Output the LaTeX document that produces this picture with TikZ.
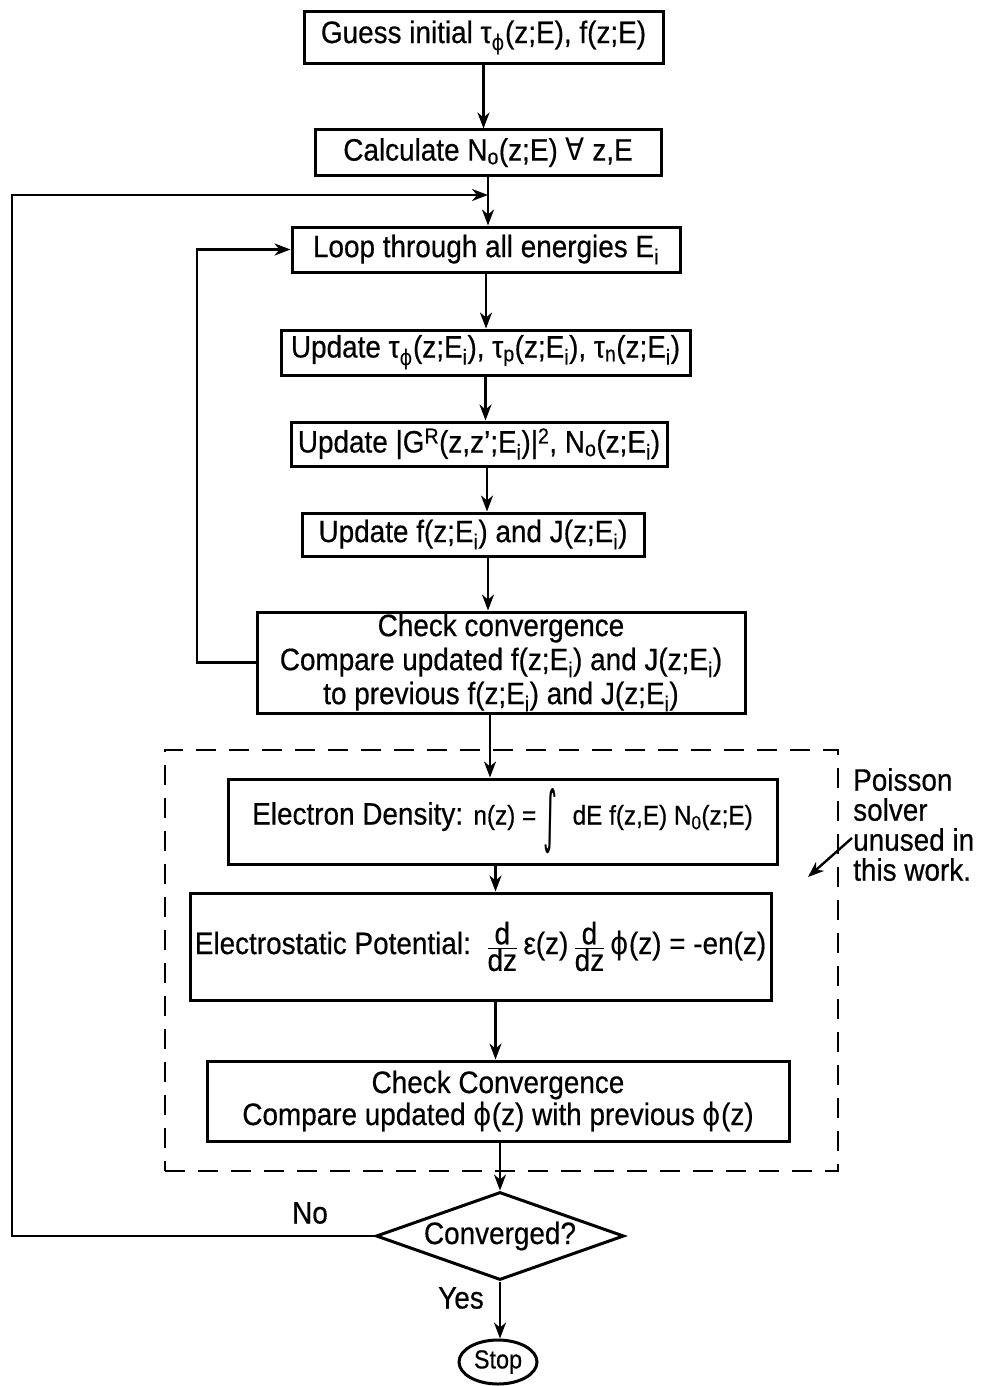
\documentclass[tikz,border=0pt]{standalone}
\usepackage{fontspec}
\setmainfont{Liberation Sans}[FakeStretch=0.9,FakeBold=0.5]
\newfontfamily\dvsans{DejaVu Sans}[FakeStretch=0.9]
\usetikzlibrary{shapes.geometric,arrows.meta}
\newcommand{\ph}{{\dvsans ϕ}}
\newcommand{\ddz}{\ensuremath{\frac{\hbox{d}}{\hbox{dz}}}}
\tikzset{
  box/.style={draw,line width=3pt,inner sep=0pt,align=center,font=\fontsize{31}{31}\selectfont},
  arr/.style={line width=2.4pt,-{Stealth[length=16pt,width=12pt,inset=5pt]}},
  lbl/.style={inner sep=0pt,font=\fontsize{31}{30}\selectfont},
}
\begin{document}
\begin{tikzpicture}[x=1pt,y=-1pt]
\useasboundingbox (0,0) rectangle (987,1386);

\node[box,minimum width=359,minimum height=52] (b1) at (483.5,38) {Guess initial τ\textsubscript{\ph}(z;E), f(z;E)};
\node[box,minimum width=346,minimum height=45] (b2) at (488,152.5) {Calculate N\textsubscript{o}(z;E) {\dvsans ∀} z,E};
\node[box,minimum width=388,minimum height=45] (b3) at (486,249.5) {Loop through all energies E\textsubscript{i}};
\node[box,minimum width=409,minimum height=45] (b4) at (485.5,352.5) {Update τ\textsubscript{\ph}(z;E\textsubscript{i}), τ\textsubscript{p}(z;E\textsubscript{i}), τ\textsubscript{n}(z;E\textsubscript{i})};
\node[box,minimum width=376,minimum height=44] (b5) at (479,444) {Update |G\textsuperscript{R}(z,z';E\textsubscript{i})|\textsuperscript{2}, N\textsubscript{o}(z;E\textsubscript{i})};
\node[box,minimum width=342,minimum height=43] (b6) at (473,534.5) {Update f(z;E\textsubscript{i}) and J(z;E\textsubscript{i})};
\node[box,minimum width=488,minimum height=101,font=\fontsize{31}{34}\selectfont] (b7) at (501,662.5) {Check convergence\\Compare updated f(z;E\textsubscript{i}) and J(z;E\textsubscript{i})\\to previous f(z;E\textsubscript{i}) and J(z;E\textsubscript{i})};

\node[draw,line width=2.8pt,dash pattern=on 20pt off 13pt,minimum width=673,minimum height=421,inner sep=0pt] (pbox) at (501.5,960.5) {};

\node[box,minimum width=549,minimum height=85] (b8) at (502.5,821.5) {Electron Density: {\fontsize{27}{27}\selectfont n(z) = \raisebox{-0.3\height}{\scalebox{1.1}[2.5]{\dvsans ∫}}\,\, dE f(z,E) N\textsubscript{0}(z;E)}};
\node[box,minimum width=581,minimum height=107] (b9) at (480.5,946.5) {Electrostatic Potential:\, \ddz\,ε(z)\,\ddz\,\ph(z) = -en(z)};
\node[box,minimum width=582,minimum height=80,font=\fontsize{31}{32}\selectfont] (b10) at (498,1101) {Check Convergence\\Compare updated \ph(z) with previous \ph(z)};

\node[diamond,draw,line width=3pt,aspect=2.82,minimum width=248,minimum height=88,inner sep=0pt,font=\fontsize{31}{30}\selectfont] (dia) at (500,1236) {Converged?};
\node[ellipse,draw,line width=3pt,minimum width=78,minimum height=44,inner sep=0pt,font=\fontsize{26}{26}\selectfont] (stop) at (498,1362) {Stop};

\node[lbl] (no) at (310,1213) {No};
\node[lbl] (yes) at (461,1298) {Yes};
\node[lbl,anchor=north west,align=left] (pnote) at (853,768) {Poisson\\solver\\unused in\\this work.};
\coordinate (pa) at (852,838);
\coordinate (pb) at (808,877);
\coordinate (mrg) at (488,195);
\coordinate (outl) at (12,1236);
\coordinate (inl) at (197,662.5);

% main flow
\draw[arr] (b1.south) -- (b1.south |- b2.north);
\draw[arr] (b2.south) -- (b2.south |- b3.north);
\draw[arr] (b3.south) -- (b3.south |- b4.north);
\draw[arr] (b4.south) -- (b4.south |- b5.north);
\draw[arr] ([xshift=8pt]b5.south) -- ([xshift=8pt]b5.south |- b6.north);
\draw[arr] ([xshift=15pt]b6.south) -- ([xshift=15pt]b6.south |- b7.north);
\draw[arr] ([xshift=-11pt]b7.south) -- ([xshift=-11pt]b7.south |- b8.north);
\draw[arr] ([xshift=-7pt]b8.south) -- ([xshift=-7pt]b8.south |- b9.north);
\draw[arr] ([xshift=15pt]b9.south) -- ([xshift=15pt]b9.south |- b10.north);
\draw[arr] ([xshift=2pt]b10.south) -- ([xshift=2pt]b10.south |- dia.north);
\draw[arr] (dia.south) -- (dia.south |- stop.north);

% loops
\draw[arr] (b7.west) -- (inl) |- (b3.west);
\draw[arr] (dia.west) -- (outl) |- (mrg);

% note arrow
\draw[arr] (pa) -- (pb);
\end{tikzpicture}
\end{document}
